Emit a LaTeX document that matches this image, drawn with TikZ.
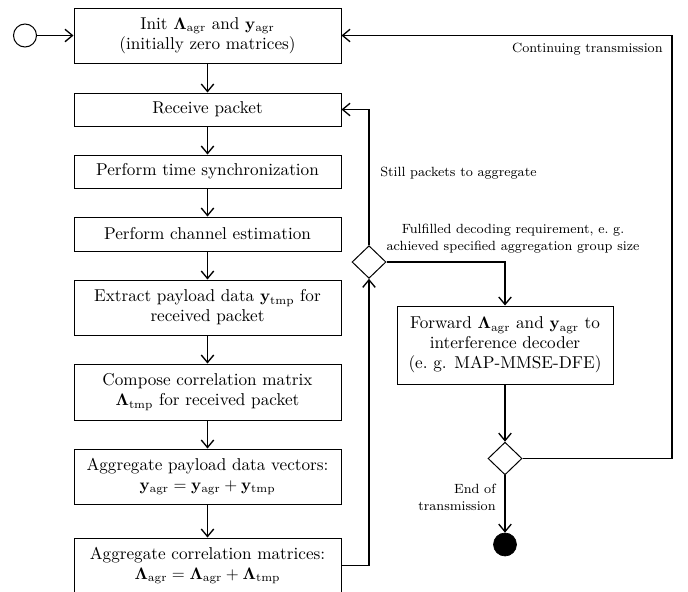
\documentclass[tikz,border=0pt]{standalone}
\usepackage{amsmath}
\usetikzlibrary{shapes.geometric,arrows.meta}
\begin{document}
\begin{tikzpicture}[x=0.6pt,y=-0.6pt,
  box/.style={draw, line width=0.6pt, minimum width=160.2pt, align=center, inner sep=0pt,
    font=\fontsize{10.3}{12}\selectfont},
  lbl/.style={font=\fontsize{8}{10.2}\selectfont, inner sep=0pt},
  dia/.style={draw, diamond, line width=0.6pt, minimum width=20.4pt, minimum height=19.6pt, inner sep=0pt},
  arr/.style={line width=0.8pt, -{Straight Barb[length=4.5pt,width=7.5pt]}},
]
\useasboundingbox (0,0) rectangle (688,591);
\node[draw, circle, line width=0.6pt, minimum size=13.8pt, inner sep=0pt] (start) at (25,35.5) {};
\node[box, minimum height=33pt] (b1) at (207.5,35.5) {Init $\boldsymbol{\Lambda}_{\mathrm{agr}}$ and $\mathbf{y}_{\mathrm{agr}}$\\(initially zero matrices)};
\node[box, minimum height=19.8pt] (b2) at (207.5,109.5) {Receive packet};
\node[box, minimum height=19.8pt] (b3) at (207.5,171.5) {Perform time synchronization};
\node[box, minimum height=20.4pt] (b4) at (207.5,234) {Perform channel estimation};
\node[box, minimum height=33pt] (b5) at (207.5,307.5) {Extract payload data $\mathbf{y}_{\mathrm{tmp}}$ for\\received packet};
\node[box, minimum height=33.6pt] (b6) at (207.5,392) {Compose correlation matrix\\$\boldsymbol{\Lambda}_{\mathrm{tmp}}$ for received packet};
\node[box, minimum height=33pt] (b7) at (207.5,476.5) {Aggregate payload data vectors:\\$\mathbf{y}_{\mathrm{agr}}=\mathbf{y}_{\mathrm{agr}}+\mathbf{y}_{\mathrm{tmp}}$};
\node[box, minimum height=33pt] (b8) at (207.5,565.5) {Aggregate correlation matrices:\\$\boldsymbol{\Lambda}_{\mathrm{agr}}=\boldsymbol{\Lambda}_{\mathrm{agr}}+\boldsymbol{\Lambda}_{\mathrm{tmp}}$};
\node[dia] (d1) at (369,262) {};
\node[box, minimum width=129.6pt, minimum height=46.8pt] (fw) at (505,345) {Forward $\boldsymbol{\Lambda}_{\mathrm{agr}}$ and $\mathbf{y}_{\mathrm{agr}}$ to\\interference decoder\\(e.~g. MAP-MMSE-DFE)};
\node[dia] (d2) at (505,458.5) {};
\node[draw, fill, circle, minimum size=13.8pt, inner sep=0pt] (end) at (505,544.5) {};
\coordinate (cr) at (672,458.5);

\node[lbl, anchor=west] (l1) at (380,173) {Still packets to aggregate};
\node[lbl, align=center] (l2) at (513,238.5) {Fulfilled decoding requirement, e.~g.\\achieved specified aggregation group size};
\node[lbl, anchor=east] (l3) at (663,49) {Continuing transmission};
\node[lbl, align=right, anchor=east] (l4) at (496,497) {End of\\transmission};

\draw[arr] (start.east) -- (start.east -| b1.west);
\draw[arr] (b1) -- (b2);
\draw[arr] (b2) -- (b3);
\draw[arr] (b3) -- (b4);
\draw[arr] (b4) -- (b5);
\draw[arr] (b5) -- (b6);
\draw[arr] (b6) -- (b7);
\draw[arr] (b7) -- (b8);
\draw[arr] (b8.east) -| (d1.south);
\draw[arr] (d1.north) |- (b2.east);
\draw[arr] (d1.east) -| (fw.north);
\draw[arr] (fw.south) -- (d2.north);
\draw[arr] (d2.east) -- (cr) |- (b1.east);
\draw[arr] (d2.south) -- (end.north);
\end{tikzpicture}
\end{document}
